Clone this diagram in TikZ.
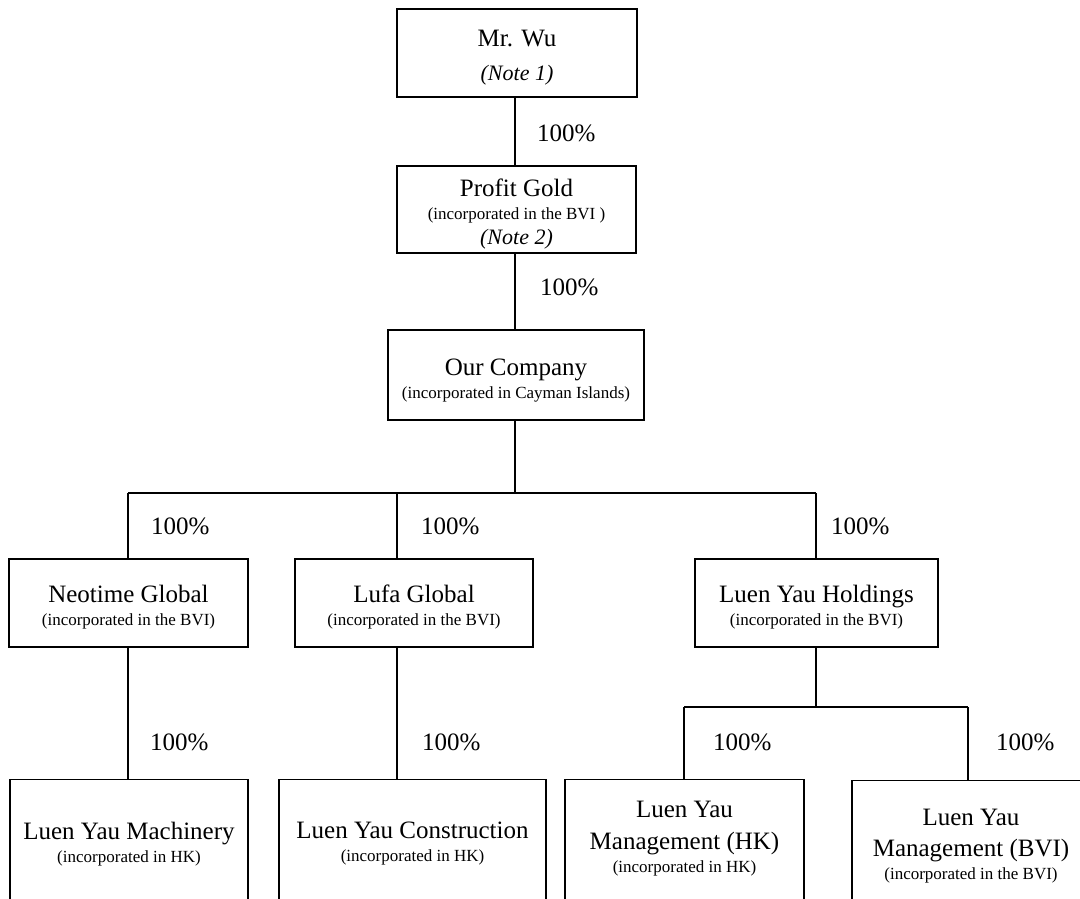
\documentclass[tikz,border=0pt]{standalone}
\usepackage{fontspec}
\setmainfont{Liberation Serif}
\newcommand\subt[1]{{\fontsize{17}{17}\selectfont #1}}
\newcommand\notetxt[1]{{\fontsize{22}{22}\selectfont\itshape #1}}
\newcommand\tstrut{\rule{0pt}{26pt}}
\begin{document}
\begin{tikzpicture}[x=1pt,y=-1pt,
  box/.style={draw, line width=1.3pt, inner sep=0pt, align=center, font=\fontsize{25}{25}\selectfont},
  obox/.style={draw, line width=1.3pt, inner sep=0pt, anchor=north, minimum height=160},
  txt/.style={inner sep=0pt, align=center, font=\fontsize{25}{25}\selectfont},
  pct/.style={anchor=west, inner sep=0pt, font=\fontsize{25}{25}\selectfont},
  link/.style={line width=1.2pt}]
\useasboundingbox (0,0) rectangle (1080,898);
\clip (0,0) rectangle (1080,898);
% boxes
\node[box, minimum width=240, minimum height=88] (wu) at (517,53) {\tstrut Mr. Wu\\[9pt]\notetxt{(Note 1)}};
\node[box, minimum width=239, minimum height=87] (pg) at (516.5,209.5) {\tstrut Profit Gold\\[-2pt]\subt{(incorporated in the BVI )}\\[0pt]\notetxt{(Note 2)}};
\node[box, minimum width=256, minimum height=90] (oc) at (516,375) {\rule{0pt}{28pt}Our Company\\[-2pt]\subt{(incorporated in Cayman Islands)}};
\node[box, minimum width=239, minimum height=88] (neo) at (128.5,603) {\tstrut Neotime Global\\[-2pt]\subt{(incorporated in the BVI)}};
\node[box, minimum width=238, minimum height=88] (lufa) at (414,603) {\tstrut Lufa Global\\[-2pt]\subt{(incorporated in the BVI)}};
\node[box, minimum width=243, minimum height=88] (hold) at (816.5,603) {\tstrut Luen Yau Holdings\\[-2pt]\subt{(incorporated in the BVI)}};
% bottom boxes (cut off by the page edge)
\node[obox, minimum width=238] (mach) at (129,779) {};
\node[obox, minimum width=267] (cons) at (412.5,779) {};
\node[obox, minimum width=239] (mhk) at (684.5,779) {};
\node[obox, minimum width=238] (mbvi) at (971,780) {};
\node[txt] (macht) at (129,844) {Luen Yau Machinery\\[-2pt]\subt{(incorporated in HK)}};
\node[txt] (const) at (412.5,844) {Luen Yau Construction\\[-2pt]\subt{(incorporated in HK)}};
\node[txt] (mhkt) at (684.5,839) {Luen Yau\\[7pt]Management (HK)\\[-2pt]\subt{(incorporated in HK)}};
\node[txt] (mbvit) at (971,846) {Luen Yau\\[6pt]Management (BVI)\\[-2pt]\subt{(incorporated in the BVI)}};
% junctions
\coordinate (tr) at (515,493);
\coordinate (b1) at (128,493);
\coordinate (b2) at (397,493);
\coordinate (b3) at (816,493);
\coordinate (j2) at (816,707);
\coordinate (c1) at (684,707);
\coordinate (c2) at (968,707);
% connectors
\draw[link] (wu.south -| tr) -- (pg.north -| tr);
\draw[link] (pg.south -| tr) -- (oc.north -| tr);
\draw[link] (oc.south -| tr) -- (tr);
\draw[link] (b1) -- (b3);
\draw[link] (b1) -- (b1 |- neo.north);
\draw[link] (b2) -- (b2 |- lufa.north);
\draw[link] (b3) -- (b3 |- hold.north);
\draw[link] (neo.south -| b1) -- (mach.north -| b1);
\draw[link] (lufa.south -| b2) -- (cons.north -| b2);
\draw[link] (hold.south -| j2) -- (j2);
\draw[link] (c1) -- (c2);
\draw[link] (c1) -- (c1 |- mhk.north);
\draw[link] (c2) -- (c2 |- mbvi.north);
% percentages
\node[pct] (p1) at (537,133) {100\%};
\node[pct] (p2) at (540,287) {100\%};
\node[pct] (p3) at (151,526) {100\%};
\node[pct] (p4) at (421,526) {100\%};
\node[pct] (p5) at (831,526) {100\%};
\node[pct] (p6) at (150,742) {100\%};
\node[pct] (p7) at (422,742) {100\%};
\node[pct] (p8) at (713,742) {100\%};
\node[pct] (p9) at (996,742) {100\%};
\end{tikzpicture}
\end{document}
